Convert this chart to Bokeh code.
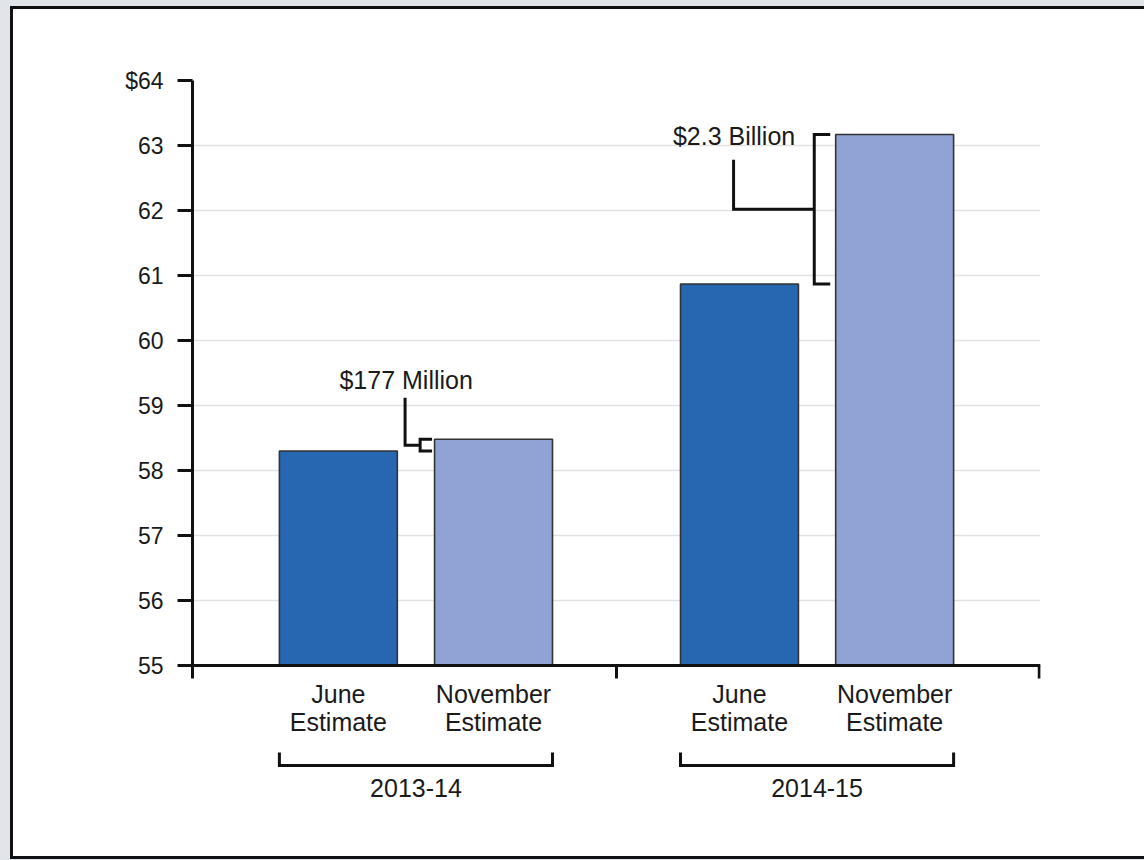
from bokeh.plotting import figure
from bokeh.models import FactorRange, Range1d, FixedTicker, ColumnDataSource
from bokeh.core.properties import value
from bokeh.embed import file_html
from bokeh.resources import INLINE

# ---- data ----
groups = ["2013-14", "2014-15"]
estimates = ["June\nEstimate", "November\nEstimate"]
june_values = [58.30, 60.87]
november_values = [58.48, 63.17]
change_labels = ["$177 Million", "$2.3 Billion"]
y_ticks = [55, 56, 57, 58, 59, 60, 61, 62, 63, 64]
y_tick_overrides = {64: "$64"}
bar_colors = ["#2767b1", "#91a3d4"]

# ---- layout / style constants ----
FONT = "Liberation Sans"
FS_TICK = "23px"
FS = "25px"
GP = 0.585      # group padding (factor units)
PAD = 0.44      # outer padding (factor units)
BAR_W = 0.76
INK = "#111111"
TXT = "#1a1a1a"
Y_BASE = 55
Y_MIN = 52.4    # frame extends below the axis to hold the group brackets

factors = [(g, e) for g in groups for e in estimates]
x_range = FactorRange(*factors, group_padding=GP, range_padding=PAD,
                      range_padding_units="absolute")

p = figure(x_range=x_range, y_range=Range1d(Y_MIN, 64), width=1134, height=853,
           output_backend="svg", toolbar_location=None,
           min_border_left=179, min_border_top=71, min_border_right=107,
           min_border_bottom=28)
p.margin = (6, 0, 0, 10)
p.styles = {"border": "3px solid #111111", "border-right-width": "0px",
            "box-shadow": "0 0 0 14px #e1e4e9"}
p.border_fill_color = "white"
p.background_fill_color = "white"
p.outline_line_color = None

# ---- grid ----
p.ygrid.grid_line_color = "#e2e2e2"
p.ygrid.grid_line_width = 1.5
p.xgrid.visible = False

# ---- bars ----
tops = []
colors = []
for j, n in zip(june_values, november_values):
    tops += [j, n]
    colors += bar_colors
bar_src = ColumnDataSource(dict(x=factors, top=tops, color=colors))
p.vbar(x="x", top="top", bottom=Y_BASE, width=BAR_W, fill_color="color",
       line_color="#333333", line_width=1.6, source=bar_src)

# ---- y axis ----
ya = p.yaxis[0]
ya.ticker = FixedTicker(ticks=y_ticks)
ya.major_label_overrides = y_tick_overrides
ya.bounds = (54.8, 64)
ya.axis_line_width = 3
ya.axis_line_color = INK
ya.major_tick_line_width = 3
ya.major_tick_line_color = INK
ya.major_tick_out = 15
ya.major_tick_in = 0
ya.minor_tick_line_color = None
ya.major_label_text_font = FONT
ya.major_label_text_font_size = FS_TICK
ya.major_label_text_color = TXT
ya.major_label_standoff = 14

# ---- x axis, drawn at y = 55 inside the frame ----
xa = p.xaxis[0]
xa.fixed_location = Y_BASE
xa.axis_line_width = 3
xa.axis_line_color = INK
xa.major_tick_line_color = None
xa.major_tick_out = 0
xa.major_tick_in = 0
xa.minor_tick_line_color = None
xa.major_label_text_font = FONT
xa.major_label_text_font_size = FS
xa.major_label_text_color = TXT
xa.major_label_text_line_height = 1.0
xa.major_label_standoff = 14
xa.group_text_color = None
xa.group_text_font_size = "0px"
xa.separator_line_color = None

# ---- change annotations inside the plot ----
bracket_off = [-0.473, -0.518]
arm_off = [-0.396, -0.415]
leader_off = [-0.570, -1.038]
leader_top = [59.12, 62.78]
label_y = [59.40, 63.14]
label_off = [-0.563, -1.035]

xs, ys = [], []
tx, ty = [], []
for i, g in enumerate(groups):
    nov = (g, estimates[1])
    j, n = june_values[i], november_values[i]
    mid = (j + n) / 2
    b, a, l = bracket_off[i], arm_off[i], leader_off[i]
    xs.append([nov + (a,), nov + (b,), nov + (b,), nov + (a,)])
    ys.append([n, n, j, j])
    xs.append([nov + (l,), nov + (l,), nov + (b,)])
    ys.append([leader_top[i], mid, mid])
    tx.append(nov + (label_off[i],))
    ty.append(label_y[i])

# ---- group brackets and boundary ticks below the axis ----
BR_Y = 53.46
BR_TOP = 53.66
TICK_Y = 54.8
for g in groups:
    left = (g, estimates[0], -BAR_W / 2)
    right = (g, estimates[1], BAR_W / 2)
    xs.append([left, left, right, right])
    ys.append([BR_TOP, BR_Y, BR_Y, BR_TOP])
bounds = [(groups[0], estimates[1], 0.5 + GP / 2),
          (groups[1], estimates[1], 0.5 + PAD - 0.008)]
for bx in bounds:
    xs.append([bx, bx])
    ys.append([Y_BASE, TICK_Y])

p.multi_line(xs="xs", ys="ys", line_color=INK, line_width=3, line_join="miter",
             source=ColumnDataSource(dict(xs=xs, ys=ys)))
p.text(x="x", y="y", text="t", text_font=value(FONT), text_font_size=FS,
       text_color=TXT, text_align="center", text_baseline="middle",
       source=ColumnDataSource(dict(x=tx, y=ty, t=change_labels)))

GROUP_Y = 53.12
p.text(x="g", y="y", text="g", text_font=value(FONT), text_font_size=FS,
       text_color=TXT, text_align="center", text_baseline="middle",
       source=ColumnDataSource(dict(g=groups, y=[GROUP_Y] * len(groups))))

open("out.html", "w").write(file_html(p, INLINE))
